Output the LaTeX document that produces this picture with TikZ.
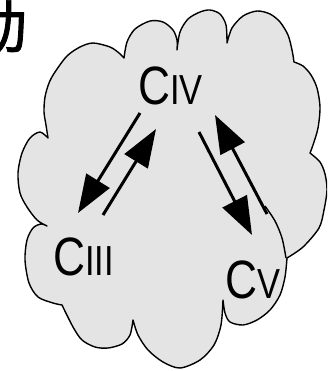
\documentclass[tikz,border=0pt]{standalone}
\usepackage{fontspec}
\setmainfont{Liberation Sans}
\newfontfamily\cjk[FakeBold=1.5]{Noto Sans CJK SC}
\usetikzlibrary{arrows.meta}
\definecolor{marble}{RGB}{228,228,228}
\newcommand\numsize{\fontsize{42}{42}\selectfont}
\tikzset{
  cloud/.style={fill=marble, draw=black, line width=1.4pt, line join=round},
  cloudline/.style={draw=black, line width=1.4pt},
  arr/.style={line width=3pt, -{Triangle[length=38pt,width=27pt]}},
  lab/.style={anchor=base west, inner sep=0pt, font=\fontsize{54}{54}\selectfont},
}
\begin{document}
\begin{tikzpicture}[x=1pt,y=-1pt]
\useasboundingbox (0,0) rectangle (327,371);
\clip (0,0) rectangle (327,371);
% partial Chinese character at top-left
\node[anchor=base east, inner sep=0pt, font=\cjk\fontsize{58}{58}\selectfont] (zh) at (27,48) {动};
% cloud
\filldraw[cloud] plot[smooth] coordinates {(48,138) (46,125) (44,112) (45,97) (49,83) (55,72) (67,56) (80,47) (93,43) (110,47) (119,53) (124,58)}
 -- plot[smooth] coordinates {(124,58) (127,42) (135,29) (150,21) (163,22) (173,30) (177,40) (177,50)}
 -- plot[smooth] coordinates {(177,50) (180,32) (188,19) (200,12) (210,10) (220,14) (226,25) (227,43)}
 -- plot[smooth] coordinates {(227,43) (232,28) (243,16) (257,11) (270,14) (280,22) (288,35) (292,50) (294,62)}
 -- plot[smooth] coordinates {(294,62) (303,66) (311,75) (317,88) (320,107) (318,128) (313,145) (310,153)}
 -- plot[smooth] coordinates {(310,153) (320,162) (325,174) (327,190) (324,210) (319,228) (303,247) (287,258)}
 -- plot[smooth] coordinates {(287,258) (285,277) (280,295) (270,310) (257,320) (243,325) (230,322) (225,313) (223,300)}
 -- plot[smooth] coordinates {(223,300) (221,325) (214,345) (200,360) (180,368) (163,362) (148,350) (138,335) (133,320)}
 -- plot[smooth] coordinates {(133,320) (130,335) (122,344) (108,348) (95,347) (82,340) (73,327) (62,305)}
 -- plot[smooth] coordinates {(62,305) (53,303) (38,297) (29,283) (25,260) (27,240) (33,228) (41,224) (47,226)}
 -- plot[smooth] coordinates {(47,226) (37,220) (27,207) (20,193) (18,173) (22,153) (30,138) (40,132) (48,138)}
 -- cycle;
\draw[cloudline] plot[smooth] coordinates {(265,206) (275,221) (282,238) (286,258)};
% labels
\node[lab] (civ) at (138,105) {\scalebox{0.82}[1]{C\numsize IV}};
\node[lab] (ciii) at (53,275) {\scalebox{0.82}[1]{C\numsize III}};
\node[lab] (cv) at (225,298) {\scalebox{0.82}[1]{C\numsize V}};
% arrow end points
\coordinate (a1s) at (140,113); \coordinate (a1e) at (78,213);
\coordinate (a2s) at (103,215); \coordinate (a2e) at (156,129);
\coordinate (a3s) at (199,132); \coordinate (a3e) at (252,235);
\coordinate (a4s) at (267,214); \coordinate (a4e) at (215,115);
\draw[arr] (a1s) -- (a1e);
\draw[arr] (a2s) -- (a2e);
\draw[arr] (a3s) -- (a3e);
\draw[arr] (a4s) -- (a4e);
\end{tikzpicture}
\end{document}
